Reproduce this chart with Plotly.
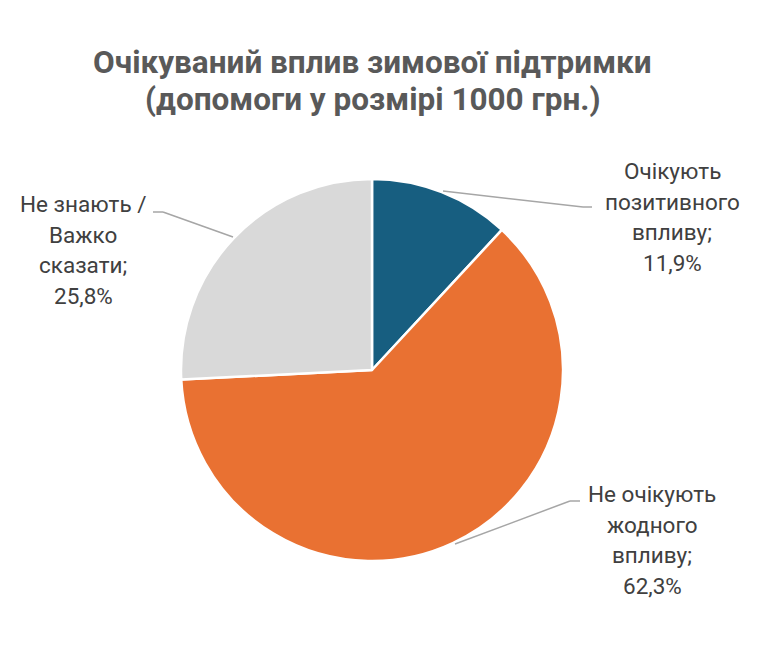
import plotly.graph_objects as go

# Дані діаграми
categories = ["Очікують позитивного впливу", "Не очікують жодного впливу", "Не знають / Важко сказати"]
values = [11.9, 62.3, 25.8]
label_lines = [["Очікують", "позитивного", "впливу;"],
               ["Не очікують", "жодного", "впливу;"],
               ["Не знають /", "Важко", "сказати;"]]
colors = ["#175E80", "#E97132", "#D9D9D9"]
title_lines = ["Очікуваний вплив зимової підтримки", "(допомоги у розмірі 1000 грн.)"]

W, H = 764, 648
OFF = 8  # відступ body сторінки


def px(x, y):
    return (x - OFF) / W, 1 - (y - OFF) / H


fig = go.Figure()
d0 = px(372 - 191, 561)
d1 = px(372 + 191, 179)
fig.add_trace(go.Pie(labels=categories, values=values, sort=False, direction="clockwise",
                     rotation=0, textinfo="none", hoverinfo="label+percent",
                     marker=dict(colors=colors, line=dict(color="white", width=2.5)),
                     domain=dict(x=[d0[0], d1[0]], y=[d0[1], d1[1]]),
                     showlegend=False))

# Підписи (центр блоку, y першого рядка)
label_pos = [(672, 171), (652, 494), (83, 204)]
annotations = []
for lines, val, (cx, y0) in zip(label_lines, values, label_pos):
    texts = lines + ["{:.1f}%".format(val).replace(".", ",")]
    for i, t in enumerate(texts):
        x, y = px(cx, y0 + i * 30.7)
        annotations.append(dict(text=t, x=x, y=y, xref="paper", yref="paper",
                                showarrow=False, xanchor="center", yanchor="middle",
                                font=dict(family="Roboto", size=22.5, color="#404040")))

for i, t in enumerate(title_lines):
    x, y = px(372, 62 + i * 38)
    annotations.append(dict(text="<b>" + t + "</b>", x=x, y=y, xref="paper", yref="paper",
                            showarrow=False, xanchor="center", yanchor="middle",
                            font=dict(family="Roboto", size=31.5, color="#595959")))

# Лінії-виноски
leaders = [[(443, 191), (583, 207), (592, 207)],
           [(455, 544), (570, 501), (580, 501)],
           [(233, 237), (163, 212), (153, 212)]]
shapes = []
for pts in leaders:
    for (xa, ya), (xb, yb) in zip(pts[:-1], pts[1:]):
        x0, y0 = px(xa, ya)
        x1, y1 = px(xb, yb)
        shapes.append(dict(type="line", xref="paper", yref="paper", x0=x0, y0=y0, x1=x1, y1=y1,
                           line=dict(color="#A6A6A6", width=1.5)))

fig.update_layout(width=W, height=H, margin=dict(l=0, r=0, t=0, b=0),
                  paper_bgcolor="white", plot_bgcolor="white",
                  annotations=annotations, shapes=shapes)

fig.write_html("out.html")
